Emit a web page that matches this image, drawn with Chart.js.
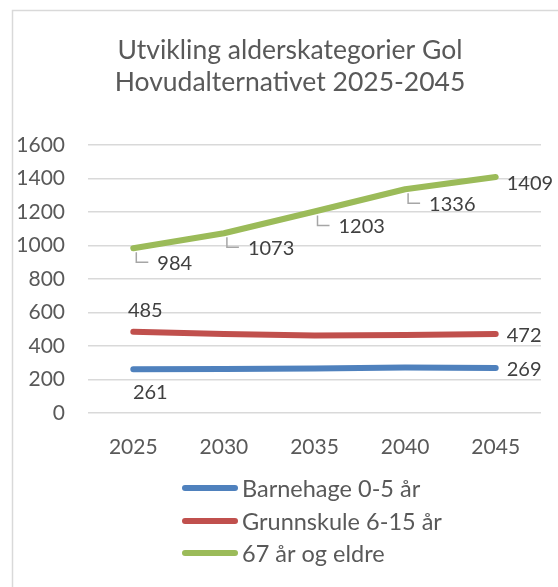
<!DOCTYPE html>
<html>
<head>
<meta charset="utf-8">
<script src="https://cdn.jsdelivr.net/npm/chart.js@4/dist/chart.umd.min.js"></script>
<style>
  html, body { margin: 0; padding: 0; background: #fff; }
  #wrap { position: relative; width: 558px; height: 587px; }
</style>
</head>
<body>
<div id="wrap"><canvas id="ageChart"></canvas></div>
<script>
// Data
const years = ['2025', '2030', '2035', '2040', '2045'];
const barnehage = [261, 263, 266, 271, 269];
const grunnskule = [485, 471, 463, 465, 472];
const eldre = [984, 1073, 1203, 1336, 1409];
const seriesNames = ['Barnehage 0-5 år', 'Grunnskule 6-15 år', '67 år og eldre'];
const yTicks = [0, 200, 400, 600, 800, 1000, 1200, 1400, 1600];
const titleLines = ['Utvikling alderskategorier Gol', 'Hovudalternativet 2025-2045'];

const textColor = '#595959';
const fontFamily = "Lato, 'Open Sans', sans-serif";
const colors = ['#4f81bd', '#c0504d', '#9bbb59'];

// which points get a value label, and where (offsets relative to the point)
const labelStyle = [
    { 0: { dx: 17, dy: 23, align: 'center' }, 4: { dx: 11, dy: 2, align: 'left' } },
    { 0: { dx: 12, dy: -21, align: 'center' }, 4: { dx: 11, dy: 2, align: 'left' } },
    {
        0: { dx: 24, dy: 15, align: 'left', leader: true },
        1: { dx: 24, dy: 15, align: 'left', leader: true },
        2: { dx: 24, dy: 15, align: 'left', leader: true },
        3: { dx: 24, dy: 15, align: 'left', leader: true },
        4: { dx: 11, dy: 7, align: 'left' }
    }
];

const decorPlugin = {
    id: 'decor',
    beforeDraw(chart) {
        const ctx = chart.ctx;
        ctx.save();
        ctx.fillStyle = '#fff';
        ctx.fillRect(0, 0, chart.width, chart.height);
        ctx.strokeStyle = '#d9d9d9';
        ctx.lineWidth = 1.5;
        ctx.strokeRect(12.5, 10.5, chart.width + 20, chart.height + 20);
        ctx.restore();
    },
    afterDatasetsDraw(chart) {
        const ctx = chart.ctx;
        ctx.save();
        ctx.font = '20px ' + fontFamily;
        ctx.textBaseline = 'middle';
        chart.data.datasets.forEach((ds, i) => {
            const meta = chart.getDatasetMeta(i);
            meta.data.forEach((pt, j) => {
                const st = labelStyle[i][j];
                if (!st) return;
                if (st.leader) {
                    ctx.strokeStyle = '#a6a6a6';
                    ctx.lineWidth = 1.5;
                    ctx.beginPath();
                    ctx.moveTo(pt.x + 3, pt.y + 4);
                    ctx.lineTo(pt.x + 3, pt.y + st.dy - 1);
                    ctx.lineTo(pt.x + 15, pt.y + st.dy - 1);
                    ctx.stroke();
                }
                ctx.fillStyle = '#404040';
                ctx.textAlign = st.align;
                ctx.fillText(String(ds.data[j]), pt.x + st.dx, pt.y + st.dy);
            });
        });
        ctx.restore();
    },
    afterDraw(chart) {
        const ctx = chart.ctx;
        ctx.save();
        // title
        ctx.fillStyle = textColor;
        ctx.textAlign = 'center';
        ctx.textBaseline = 'alphabetic';
        ctx.font = '26.5px ' + fontFamily;
        ctx.fillText(titleLines[0], 290, 59);
        ctx.fillText(titleLines[1], 290, 91);
        // legend
        ctx.font = '23.5px ' + fontFamily;
        ctx.textAlign = 'left';
        ctx.textBaseline = 'middle';
        const rows = [488, 521, 553];
        seriesNames.forEach((name, i) => {
            ctx.strokeStyle = colors[i];
            ctx.lineWidth = 6;
            ctx.lineCap = 'round';
            ctx.beginPath();
            ctx.moveTo(185, rows[i]);
            ctx.lineTo(235, rows[i]);
            ctx.stroke();
            ctx.fillStyle = textColor;
            ctx.fillText(name, 242, rows[i] + 1);
        });
        ctx.restore();
    }
};

const ctx = document.getElementById('ageChart').getContext('2d');
const ageChart = new Chart(ctx, {
    type: 'line',
    data: {
        labels: years,
        datasets: [barnehage, grunnskule, eldre].map((d, i) => ({
            label: seriesNames[i],
            data: d,
            borderColor: colors[i],
            backgroundColor: colors[i],
            borderWidth: 6,
            borderCapStyle: 'round',
            borderJoinStyle: 'round',
            pointRadius: 0,
            tension: 0
        }))
    },
    options: {
        responsive: true,
        maintainAspectRatio: false,
        animation: false,
        layout: { padding: { left: 12, right: 17, top: 145, bottom: 0 } },
        plugins: {
            legend: { display: false },
            title: { display: false },
            tooltip: { enabled: false }
        },
        scales: {
            x: {
                offset: true,
                grid: { display: false },
                border: { display: false },
                ticks: { color: textColor, font: { family: fontFamily, size: 21 }, padding: 14 },
                afterFit(scale) { scale.height = 174; }
            },
            y: {
                min: 0,
                max: 1600,
                afterBuildTicks(scale) { scale.ticks = yTicks.map(v => ({ value: v })); },
                grid: { color: '#d9d9d9', lineWidth: 1.5, drawTicks: false },
                border: { display: false },
                ticks: {
                    color: textColor,
                    font: { family: fontFamily, size: 21 },
                    padding: 23,
                    callback: v => String(v)
                },
                afterFit(scale) { scale.width = 76; }
            }
        }
    },
    plugins: [decorPlugin]
});
</script>
</body>
</html>
